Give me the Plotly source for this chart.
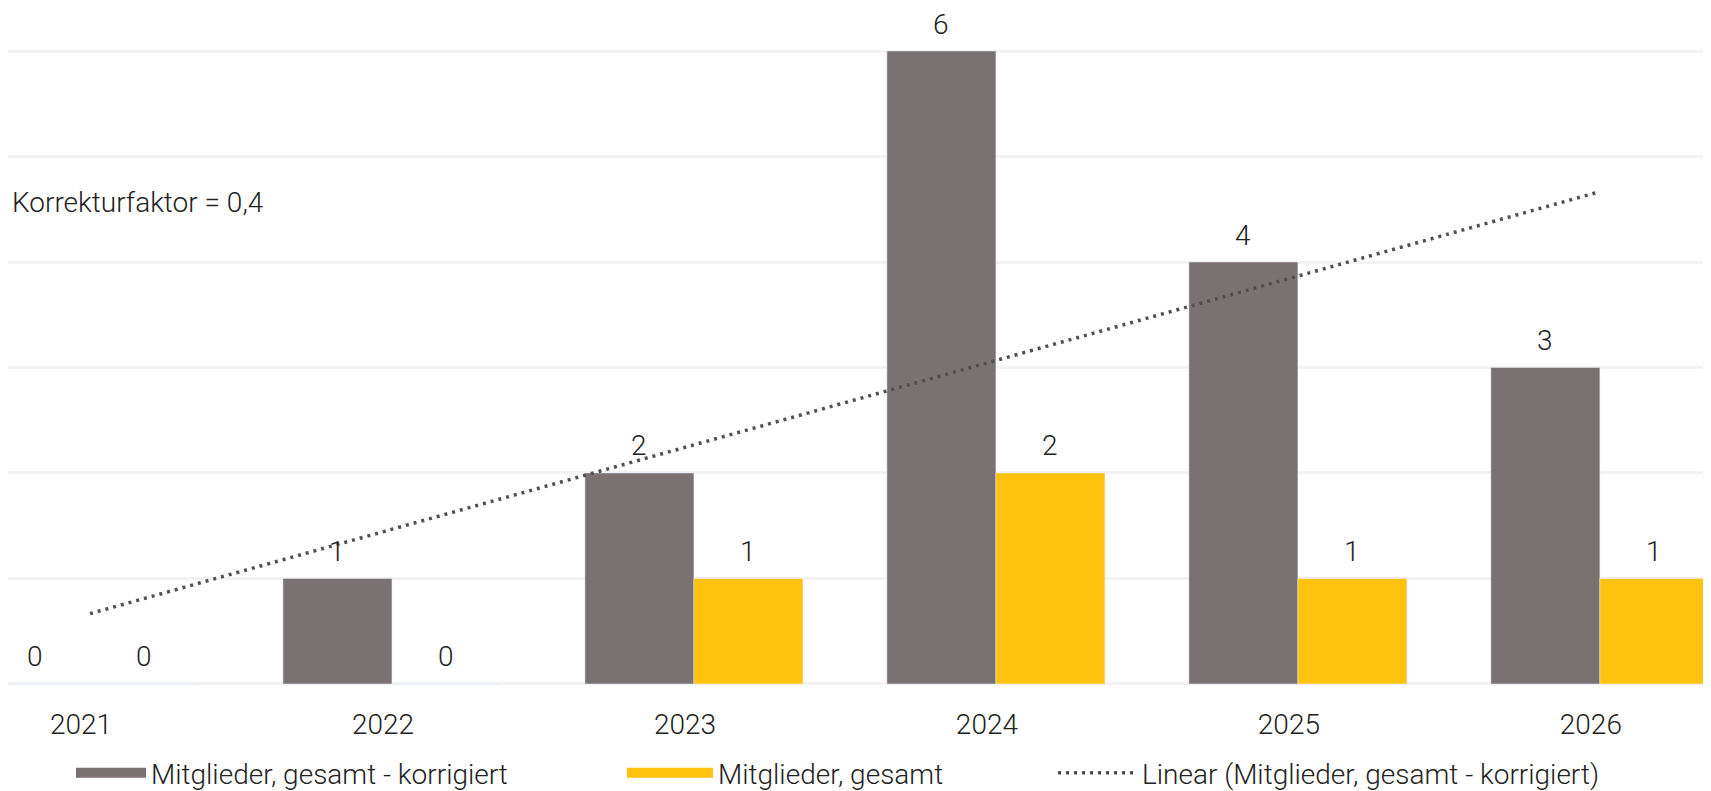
import numpy as np
import plotly.graph_objects as go

years = ["2021", "2022", "2023", "2024", "2025", "2026"]
korrigiert = [0, 1, 2, 6, 4, 3]
gesamt = [0, 0, 1, 2, 1, 1]
name_korr = "Mitglieder, gesamt - korrigiert"
name_ges = "Mitglieder, gesamt"
name_trend = "Linear (Mitglieder, gesamt - korrigiert)"
note_text = "Korrekturfaktor = 0,4"

GRAY = "#7a7272"
YELLOW = "#FFC20E"
TREND = "#555050"
FONT = "Roboto"
FS = 28
TXT = "#222"

# linear trend of the corrected series (as in the original chart)
xi = np.arange(1, len(years) + 1)
slope, icpt = np.polyfit(xi, korrigiert, 1)
trend = list(slope * xi + icpt)

fig = go.Figure()
fig.add_trace(go.Bar(x=years, y=korrigiert, name=name_korr, marker_color=GRAY,
                     showlegend=False, offsetgroup="a"))
fig.add_trace(go.Bar(x=years, y=gesamt, name=name_ges, marker_color=YELLOW,
                     showlegend=False, offsetgroup="b"))
fig.add_trace(go.Scatter(x=years, y=trend, mode="lines", name=name_trend,
                         line=dict(color=TREND, width=3.5, dash="3px,5px"),
                         legend="legend3"))
# legend swatches
fig.add_trace(go.Scatter(x=[None], y=[None], mode="lines", name=name_korr,
                         line=dict(color=GRAY, width=15), legend="legend"))
fig.add_trace(go.Scatter(x=[None], y=[None], mode="lines", name=name_ges,
                         line=dict(color=YELLOW, width=15), legend="legend2"))

W, H = 1703, 783          # page body has an 8px margin
plot_h = 692
bar_half = 54.5
lab_font = dict(family=FONT, size=FS, color=TXT, weight=300)
anns = []
for i, v in enumerate(korrigiert):
    anns.append(dict(x=i, y=v, text=str(v), showarrow=False, xshift=-bar_half, yshift=27,
                     font=lab_font))
for i, v in enumerate(gesamt):
    anns.append(dict(x=i, y=v, text=str(v), showarrow=False, xshift=bar_half, yshift=27,
                     font=lab_font))
anns.append(dict(xref="paper", yref="paper", x=2 / W, y=1 - 194 / plot_h, xanchor="left",
                 yanchor="middle", text=note_text, showarrow=False, font=lab_font))

leg_common = dict(orientation="h", yref="container", y=1 - 765 / H, yanchor="middle",
                  xanchor="left", font=lab_font, bgcolor="rgba(0,0,0,0)", tracegroupgap=0)

fig.update_layout(
    width=W, height=H,
    margin=dict(l=0, r=0, t=0, b=H - plot_h, pad=0),
    paper_bgcolor="white", plot_bgcolor="white",
    barmode="group", bargap=0.278, bargroupgap=0,
    font=lab_font,
    xaxis=dict(type="category", range=[-0.2715, 5.368], showgrid=False, zeroline=False,
               showline=False, ticks="", tickfont=lab_font,
               ticklabelstandoff=5, ticklabelshift=-9),
    yaxis=dict(range=[-0.152, 6.408], dtick=1, showgrid=True, gridcolor="#f3f3f3",
               gridwidth=3, zeroline=False, showticklabels=False, showline=False),
    legend=dict(x=63 / W, itemwidth=70, **leg_common),
    legend2=dict(x=614 / W, itemwidth=86, **leg_common),
    legend3=dict(x=1045 / W, itemwidth=79, **leg_common),
    annotations=anns,
)

fig.write_html("out.html")
